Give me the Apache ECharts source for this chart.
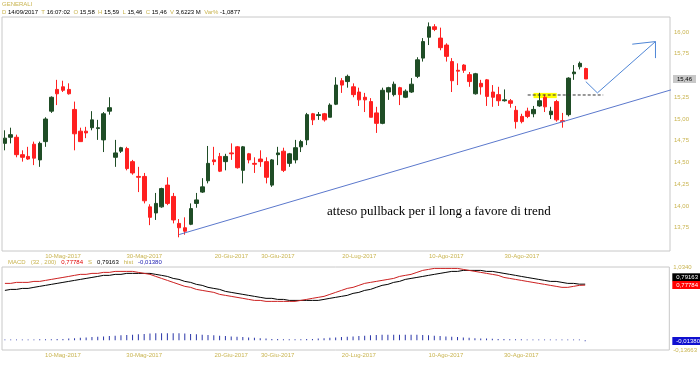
<!DOCTYPE html>
<html><head><meta charset="utf-8">
<script src="https://cdn.jsdelivr.net/npm/echarts@6/dist/echarts.min.js"></script>
<style>html,body{margin:0;padding:0;background:#fff}#c{width:700px;height:365px}</style>
</head><body><div id="c"></div>
<script>
const dates = ['25-Apr-2017','26-Apr-2017','27-Apr-2017','28-Apr-2017','2-Mag-2017','3-Mag-2017','4-Mag-2017','5-Mag-2017','8-Mag-2017','9-Mag-2017',
'10-Mag-2017','11-Mag-2017','12-Mag-2017','15-Mag-2017','16-Mag-2017','17-Mag-2017','18-Mag-2017','19-Mag-2017','22-Mag-2017','23-Mag-2017',
'24-Mag-2017','25-Mag-2017','26-Mag-2017','29-Mag-2017','30-Mag-2017','31-Mag-2017','1-Giu-2017','2-Giu-2017','5-Giu-2017','6-Giu-2017',
'7-Giu-2017','8-Giu-2017','9-Giu-2017','12-Giu-2017','13-Giu-2017','14-Giu-2017','15-Giu-2017','16-Giu-2017','19-Giu-2017','20-Giu-2017',
'21-Giu-2017','22-Giu-2017','23-Giu-2017','26-Giu-2017','27-Giu-2017','28-Giu-2017','29-Giu-2017','30-Giu-2017','3-Lug-2017','4-Lug-2017',
'5-Lug-2017','6-Lug-2017','7-Lug-2017','10-Lug-2017','11-Lug-2017','12-Lug-2017','13-Lug-2017','14-Lug-2017','17-Lug-2017','18-Lug-2017',
'19-Lug-2017','20-Lug-2017','21-Lug-2017','24-Lug-2017','25-Lug-2017','26-Lug-2017','27-Lug-2017','28-Lug-2017','31-Lug-2017','1-Ago-2017',
'2-Ago-2017','3-Ago-2017','4-Ago-2017','7-Ago-2017','8-Ago-2017','9-Ago-2017','10-Ago-2017','11-Ago-2017','14-Ago-2017','16-Ago-2017',
'17-Ago-2017','18-Ago-2017','21-Ago-2017','22-Ago-2017','23-Ago-2017','24-Ago-2017','25-Ago-2017','28-Ago-2017','29-Ago-2017','30-Ago-2017',
'31-Ago-2017','1-Set-2017','4-Set-2017','5-Set-2017','6-Set-2017','7-Set-2017','8-Set-2017','11-Set-2017','12-Set-2017','13-Set-2017','14-Set-2017'];
const futureSlots = ['f1','f2','f3','f4','f5','f6','f7','f8','f9','f10','f11','f12','f13','f14'];
const labelDates = ['10-Mag-2017','30-Mag-2017','20-Giu-2017','30-Giu-2017','20-Lug-2017','10-Ago-2017','30-Ago-2017'];

const opens = [14.72,14.79,14.79,14.59,14.57,14.71,14.53,14.74,15.09,15.34,
15.37,15.34,15.11,14.86,14.86,14.90,14.89,14.76,15.09,14.56,
14.63,14.66,14.51,14.34,14.34,13.99,13.92,13.99,14.24,14.11,
13.80,13.75,13.79,14.03,14.16,14.29,14.53,14.57,14.51,14.61,
14.68,14.41,14.60,14.49,14.54,14.51,14.24,14.59,14.63,14.49,
14.53,14.68,14.76,15.06,15.04,15.06,15.02,15.17,15.44,15.43,
15.37,15.31,15.25,15.20,15.07,14.95,15.31,15.28,15.36,15.25,
15.31,15.49,15.70,15.94,16.06,15.93,15.85,15.66,15.56,15.62,
15.51,15.29,15.41,15.45,15.31,15.28,15.21,15.21,15.10,15.03,
15.09,15.06,15.15,15.25,15.05,15.20,14.98,15.05,15.52,15.60,15.58];
const closes = [14.78,14.82,14.59,14.56,14.54,14.55,14.72,15.00,15.25,15.29,
15.33,15.29,14.83,14.74,14.84,14.99,14.90,15.06,15.13,14.61,
14.67,14.43,14.38,14.33,14.06,13.87,14.03,14.20,14.03,13.84,
13.75,13.71,13.97,14.07,14.22,14.49,14.51,14.40,14.57,14.60,
14.44,14.68,14.53,14.48,14.51,14.33,14.53,14.61,14.41,14.60,
14.67,14.74,15.05,14.99,15.05,14.99,15.16,15.39,15.39,15.49,
15.28,15.22,15.22,15.02,14.95,15.33,15.36,15.40,15.28,15.32,
15.40,15.68,15.89,16.06,16.03,15.82,15.72,15.44,15.55,15.56,
15.43,15.52,15.37,15.26,15.25,15.21,15.22,15.18,14.97,14.97,
15.03,15.11,15.21,15.14,15.09,14.99,14.97,15.47,15.54,15.64,15.46];
const lows = [14.64,14.72,14.56,14.51,14.53,14.47,14.45,14.68,15.07,15.16,
15.31,15.28,14.64,14.74,14.78,14.87,14.76,14.62,15.05,14.45,
14.61,14.41,14.36,14.16,14.03,13.78,13.84,13.98,14.01,13.80,
13.64,13.67,13.78,13.98,14.15,14.26,14.47,14.39,14.41,14.53,
14.43,14.26,14.49,14.38,14.45,14.26,14.22,14.47,14.39,14.45,
14.49,14.62,14.70,14.93,14.99,14.97,15.02,15.16,15.30,15.36,
15.25,15.15,15.08,15.02,14.84,14.94,15.22,15.26,15.16,15.24,
15.30,15.47,15.66,15.85,16.01,15.79,15.66,15.31,15.39,15.53,
15.37,15.28,15.28,15.15,15.14,15.15,15.20,15.13,14.89,14.95,
15.01,15.02,15.14,15.08,15.00,14.97,14.90,15.03,15.45,15.57,15.46];
const highs = [14.87,14.90,14.82,14.64,14.68,14.74,14.74,15.02,15.26,15.45,
15.44,15.41,15.20,14.90,14.91,15.09,14.99,15.08,15.25,14.76,
14.68,14.68,14.53,14.45,14.38,14.02,14.15,14.21,14.33,14.15,
13.85,13.87,14.03,14.15,14.32,14.69,14.68,14.61,14.60,14.72,
14.69,14.69,14.61,14.56,14.64,14.56,14.54,14.68,14.67,14.61,
14.76,14.76,15.07,15.07,15.08,15.07,15.18,15.48,15.47,15.51,
15.41,15.36,15.30,15.24,15.14,15.36,15.37,15.43,15.37,15.34,
15.47,15.71,15.93,16.11,16.09,16.05,15.87,15.70,15.64,15.63,
15.54,15.53,15.45,15.46,15.39,15.37,15.34,15.23,15.15,15.06,
15.13,15.15,15.30,15.28,15.14,15.22,15.07,15.48,15.62,15.66,15.59];

const macdLine = [0.803,0.803,0.817,0.817,0.817,0.831,0.831,0.845,0.859,0.873,0.887,
0.901,0.916,0.930,0.930,0.944,0.944,0.958,0.958,0.972,0.972,0.972,0.972,
0.958,0.944,0.930,0.901,0.873,0.845,0.817,0.789,0.761,0.747,0.718,0.704,0.690,0.676,0.648,0.634,
0.620,0.606,0.592,0.577,0.563,0.563,0.549,0.549,0.549,0.549,0.549,0.549,0.563,0.577,0.592,0.606,0.620,
0.648,0.676,0.704,0.732,0.747,0.775,0.803,0.817,0.831,0.845,0.859,0.873,0.901,0.916,0.930,0.958,0.986,
1.000,1.014,1.014,1.014,1.014,1.014,1.000,0.986,0.972,0.958,0.944,0.930,0.916,0.887,0.873,0.859,
0.845,0.831,0.817,0.803,0.789,0.775,0.761,0.747,0.747,0.761,0.775,0.778];
const signalLine = [0.704,0.718,0.718,0.732,0.732,0.747,0.761,0.775,0.789,0.803,0.817,
0.831,0.845,0.859,0.873,0.887,0.901,0.916,0.916,0.930,0.930,0.944,0.944,
0.944,0.944,0.944,0.930,0.916,0.901,0.873,0.859,0.831,0.817,0.789,0.775,0.747,0.732,0.718,0.690,
0.676,0.662,0.648,0.634,0.620,0.606,0.592,0.592,0.577,0.577,0.563,0.563,0.563,0.563,0.563,0.563,0.577,
0.592,0.606,0.620,0.634,0.662,0.676,0.704,0.718,0.747,0.775,0.789,0.817,0.831,0.859,0.873,0.887,0.901,
0.916,0.930,0.944,0.958,0.972,0.972,0.986,0.986,0.986,0.986,0.972,0.972,0.958,0.944,0.930,0.916,
0.901,0.887,0.873,0.859,0.845,0.831,0.831,0.817,0.803,0.803,0.792,0.792];
const histBars = [0.010,0.010,0.010,0.012,0.012,0.013,0.014,0.015,0.016,0.018,0.020,
0.025,0.030,0.035,0.040,0.045,0.050,0.055,0.060,0.065,0.070,0.075,0.080,
0.085,0.090,0.095,0.100,0.100,0.100,0.100,0.100,0.095,0.090,0.085,0.080,0.075,0.070,0.065,0.060,
0.055,0.050,0.045,0.040,0.035,0.030,0.025,0.020,0.018,0.016,0.015,0.015,0.016,0.018,0.020,0.025,0.030,
0.035,0.040,0.045,0.050,0.055,0.060,0.065,0.070,0.075,0.078,0.080,0.080,0.080,0.080,0.080,0.078,0.075,
0.070,0.065,0.060,0.055,0.050,0.045,0.040,0.035,0.030,0.027,0.025,0.022,0.020,0.018,0.016,0.015,
0.014,0.013,0.012,0.011,0.010,0.010,0.010,0.010,0.010,0.010,0.010,-0.0138];

const priceTicks = [13.75,14.00,14.25,14.50,14.75,15.00,15.25,15.75,16.00];
const priceMin = 13.4828, priceMax = 16.1724;
const macdMin = -0.13663, macdMax = 1.0340;
const lastClose = 15.46, lastMacd = 0.77784, lastSignal = 0.79163, lastHist = -0.01380;
const trendLine = [[30,13.672],[116,15.361]];
const pullbackArrow = [[100,15.43],[102,15.30],[112,15.89]];
const arrowHead = [[108,15.86],[112,15.89],[112,15.70]];
const resistanceLevel = 15.276, resistanceFrom = 90, resistanceTo = 103;
const highlightFrom = 91, highlightTo = 95, highlightTop = 15.30, highlightBottom = 15.24;

const gold = '#c9b450';
const font = 'Liberation Sans';
const fmt = (v, d) => v.toFixed(d).replace('.', ',');
const categories = dates.concat(futureSlots);
const candles = dates.map((d, i) => [opens[i], closes[i], lows[i], highs[i]]);
const hidden = {color: 'rgba(0,0,0,0)', width: 1, opacity: 1};
const tag = (text, bg, fg, offsetY) => ({
  position: 'end', distance: 3, offset: [0, offsetY || 0], formatter: text, show: true,
  backgroundColor: bg, color: fg, fontSize: 6, fontFamily: font, padding: [1, 4, 1, 4], opacity: 1
});

const chart = echarts.init(document.getElementById('c'), null, {renderer: 'canvas'});
const xLabel = {
  interval: (i, v) => labelDates.indexOf(v) >= 0,
  color: gold, fontSize: 6, fontFamily: font, margin: 2
};
chart.setOption({
  animation: false,
  backgroundColor: '#fff',
  grid: [
    {left: 2, right: 30, top: 17, height: 234, show: true, borderColor: '#c8c8c8', borderWidth: 1},
    {left: 2, right: 30, top: 267, height: 83, show: true, borderColor: '#c8c8c8', borderWidth: 1}
  ],
  xAxis: [
    {type: 'category', gridIndex: 0, data: categories, boundaryGap: true,
     axisLine: {show: false}, axisTick: {show: false}, splitLine: {show: false}, axisLabel: xLabel},
    {type: 'category', gridIndex: 1, data: categories, boundaryGap: true,
     axisLine: {show: false}, axisTick: {show: false}, splitLine: {show: false}, axisLabel: xLabel}
  ],
  yAxis: [
    {type: 'value', gridIndex: 0, position: 'right', min: priceMin, max: priceMax, scale: true,
     axisLine: {show: false}, axisTick: {show: false}, splitLine: {show: false},
     axisLabel: {customValues: priceTicks, formatter: v => fmt(v, 2), color: gold, fontSize: 6, fontFamily: font, margin: 4}},
    {type: 'value', gridIndex: 1, position: 'right', min: macdMin, max: macdMax,
     axisLine: {show: false}, axisTick: {show: false}, splitLine: {show: false},
     axisLabel: {customValues: [macdMax, macdMin], formatter: v => (v === macdMax ? '1,0340' : fmt(v, 5)), color: gold, fontSize: 6, fontFamily: font, margin: 4}}
  ],
  series: [
    {type: 'candlestick', xAxisIndex: 0, yAxisIndex: 0, data: candles, barWidth: 4,
     itemStyle: {color: '#1f4d26', color0: '#ff2020', borderColor: '#1f4d26', borderColor0: '#ff2020', borderWidth: 1},
     markArea: {silent: true, itemStyle: {color: '#ffff00'},
       data: [[{xAxis: highlightFrom, yAxis: highlightTop}, {xAxis: highlightTo, yAxis: highlightBottom}]]},
     markLine: {silent: true, symbol: 'none', lineStyle: hidden,
       label: tag(fmt(lastClose, 2), '#c8c8c8', '#000'),
       data: [{yAxis: lastClose}]}
    },
    {type: 'line', xAxisIndex: 0, yAxisIndex: 0, data: trendLine, symbol: 'none', clip: true,
     lineStyle: {color: '#5b78cc', width: 1}},
    {type: 'line', xAxisIndex: 0, yAxisIndex: 0, data: [[resistanceFrom, resistanceLevel], [resistanceTo, resistanceLevel]], symbol: 'none',
     lineStyle: {color: '#333', width: 1, type: [3, 2]}},
    {type: 'line', xAxisIndex: 0, yAxisIndex: 0, data: pullbackArrow, symbol: 'none',
     lineStyle: {color: '#4f86d6', width: 1}},
    {type: 'line', xAxisIndex: 0, yAxisIndex: 0, data: arrowHead, symbol: 'none',
     lineStyle: {color: '#4f86d6', width: 1}},
    {type: 'bar', xAxisIndex: 1, yAxisIndex: 1, data: histBars, barWidth: 1, itemStyle: {color: '#2a36a8'},
     markLine: {silent: true, symbol: 'none', lineStyle: hidden,
       label: tag(fmt(lastHist, 5), '#1010d0', '#fff'),
       data: [{yAxis: lastHist}]}},
    {type: 'line', xAxisIndex: 1, yAxisIndex: 1, data: signalLine, symbol: 'none', lineStyle: {color: '#000', width: 1},
     markLine: {silent: true, symbol: 'none', lineStyle: hidden,
       label: tag(fmt(lastSignal, 5), '#000', '#fff', -7),
       data: [{yAxis: lastSignal}]}},
    {type: 'line', xAxisIndex: 1, yAxisIndex: 1, data: macdLine, symbol: 'none', lineStyle: {color: '#cc2020', width: 1},
     markLine: {silent: true, symbol: 'none', lineStyle: hidden,
       label: tag(fmt(lastMacd, 5), '#ff0000', '#fff'),
       data: [{yAxis: lastMacd}]}}
  ],
  graphic: [
    {type: 'text', left: 2, top: 1, style: {text: 'GENERALI', fill: gold, font: '6px ' + font}},
    {type: 'text', left: 2, top: 9, style: {
      text: '{k|D} 14/09/2017  {k|T} 16:07:02  {k|O} 15,58  {k|H} 15,59  {k|L} 15,46  {k|C} 15,46  {k|V} 3,6223 M  {k|Var%} -1,0877',
      fill: '#000', font: '6px ' + font, rich: {k: {fill: gold, font: '6px ' + font}}}},
    {type: 'text', left: 8, top: 259, style: {
      text: '{k|MACD}   {k|(32 , 200)}   {r|0,77784}   {k|S}   0,79163   {k|hist}   {b|-0,01380}',
      fill: '#000', font: '6px ' + font, rich: {k: {fill: gold, font: '6px ' + font}, r: {fill: '#e00000', font: '6px ' + font}, b: {fill: '#1a1ab0', font: '6px ' + font}}}},
    {type: 'text', left: 327, top: 205, style: {text: 'atteso pullback per il long a favore di trend', fill: '#000', font: '13px "Liberation Serif"'}}
  ]
});
</script></body></html>
